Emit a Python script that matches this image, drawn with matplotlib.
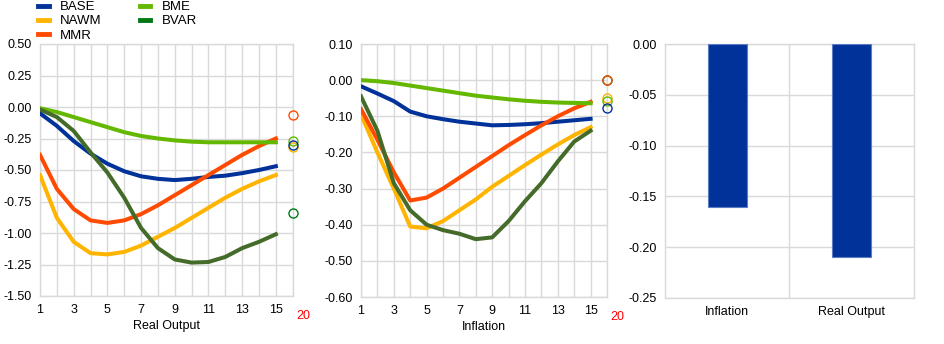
import matplotlib.pyplot as plt
import numpy as np
from matplotlib.lines import Line2D

plt.rcParams['font.family'] = ['Liberation Sans', 'DejaVu Sans']

# Horizons (quarters) for the impulse responses
horizons = np.arange(1, 16)
marker_pos = 16  # long-run value plotted as an open circle

# Real output responses
out_base = [-0.05, -0.15, -0.27, -0.37, -0.45, -0.51, -0.55, -0.57, -0.58, -0.57, -0.555, -0.545, -0.525, -0.50, -0.47]
out_nawm = [-0.54, -0.88, -1.07, -1.16, -1.17, -1.15, -1.10, -1.03, -0.96, -0.88, -0.80, -0.72, -0.65, -0.59, -0.54]
out_mmr = [-0.38, -0.65, -0.81, -0.90, -0.92, -0.90, -0.85, -0.78, -0.70, -0.62, -0.54, -0.46, -0.38, -0.31, -0.25]
out_bme = [-0.01, -0.04, -0.08, -0.12, -0.16, -0.20, -0.23, -0.25, -0.265, -0.275, -0.28, -0.28, -0.28, -0.28, -0.28]
out_bvar = [-0.02, -0.08, -0.19, -0.36, -0.52, -0.72, -0.96, -1.12, -1.21, -1.235, -1.23, -1.19, -1.12, -1.07, -1.01]
out_longrun = {'BASE': -0.30, 'NAWM': -0.32, 'MMR': -0.06, 'BME': -0.27, 'BVAR': -0.84}

# Inflation responses
inf_base = [-0.017, -0.037, -0.058, -0.087, -0.100, -0.108, -0.115, -0.120, -0.125, -0.124, -0.122, -0.119, -0.115, -0.111, -0.107]
inf_nawm = [-0.095, -0.20, -0.30, -0.405, -0.41, -0.39, -0.36, -0.33, -0.295, -0.265, -0.235, -0.206, -0.178, -0.152, -0.13]
inf_mmr = [-0.08, -0.165, -0.255, -0.333, -0.325, -0.30, -0.27, -0.24, -0.21, -0.18, -0.152, -0.125, -0.10, -0.078, -0.06]
inf_bme = [0.0, -0.003, -0.008, -0.015, -0.022, -0.029, -0.036, -0.043, -0.048, -0.053, -0.057, -0.060, -0.062, -0.063, -0.064]
inf_bvar = [-0.045, -0.14, -0.285, -0.36, -0.40, -0.415, -0.425, -0.44, -0.435, -0.39, -0.335, -0.285, -0.225, -0.17, -0.14]
inf_longrun = {'BASE': -0.077, 'NAWM': -0.05, 'MMR': 0.0, 'BME': -0.058, 'BVAR': 0.0}

# Bar panel
bar_labels = ['Inflation', 'Real Output']
bar_values = [-0.16, -0.21]

names = ['BASE', 'NAWM', 'MMR', 'BME', 'BVAR']
line_colors = {'BASE': '#003299', 'NAWM': '#FFB400', 'MMR': '#FF4B00',
               'BME': '#65B800', 'BVAR': '#456B2A'}
key_colors = {'BASE': '#003299', 'NAWM': '#FFB400', 'MMR': '#FF4B00',
              'BME': '#65B800', 'BVAR': '#007816'}
grid_c = '#D9D9D9'

fig = plt.figure(figsize=(9.45, 3.44), dpi=100)
W, H = 945, 344


def axes_px(x0, y0, x1, y1):
    return fig.add_axes([x0 / W, 1 - y1 / H, (x1 - x0) / W, (y1 - y0) / H])


def fmt2(v):
    v = round(v, 2)
    return '{:.2f}'.format(0.0 if v == 0 else v)


def style(ax):
    for s in ax.spines.values():
        s.set_color(grid_c)
        s.set_linewidth(1)
    ax.tick_params(length=0, labelsize=9, colors='black', pad=6)
    ax.set_axisbelow(True)


def irf_panel(ax, series, longrun, ylim, yticks, xlabel):
    for name, vals in zip(names, series):
        ax.plot(horizons, vals, color=line_colors[name], lw=2.9, solid_joinstyle='round', zorder=3)
    for name in ['BVAR', 'NAWM', 'BME', 'BASE', 'MMR']:
        ax.plot([marker_pos], [longrun[name]], 'o', mfc='none', mec=key_colors[name],
                ms=6.5, mew=1.0, zorder=4, clip_on=False)
    ax.set_xlim(1, 16)
    ax.set_ylim(*ylim)
    ax.set_xticks(np.arange(1, 17), minor=True)
    ax.set_xticks(np.arange(1, 16, 2))
    ax.set_yticks(yticks)
    ax.set_yticklabels([fmt2(v) for v in yticks])
    ax.grid(True, which='both', color=grid_c, lw=1)
    style(ax)
    ax.tick_params(which='minor', length=0)
    ax.set_xlabel(xlabel, fontsize=9, labelpad=3)
    ax.text(16.65, -0.055, '20', color='red', fontsize=9, ha='center', va='top',
            transform=ax.get_xaxis_transform())


ax1 = axes_px(40, 44, 292.7, 296)
irf_panel(ax1, [out_base, out_nawm, out_mmr, out_bme, out_bvar], out_longrun,
          (-1.5, 0.5), np.arange(-1.5, 0.51, 0.25), 'Real Output')

ax2 = axes_px(361, 44, 607, 297)
irf_panel(ax2, [inf_base, inf_nawm, inf_mmr, inf_bme, inf_bvar], inf_longrun,
          (-0.6, 0.1), np.arange(-0.6, 0.11, 0.1), 'Inflation')

ax3 = axes_px(665, 44, 914, 298)
xb = np.arange(len(bar_labels))
ax3.bar(xb, bar_values, width=0.31, color='#003299', edgecolor='#5B7BC4', lw=0.8, zorder=3)
ax3.set_xlim(-0.5, 1.5)
ax3.set_ylim(-0.25, 0)
ax3.set_xticks(xb)
ax3.set_xticklabels(bar_labels)
ax3.set_xticks([0.5], minor=True)
yb = np.arange(-0.25, 0.001, 0.05)
ax3.set_yticks(yb)
ax3.set_yticklabels([fmt2(v) for v in yb])
ax3.grid(True, which='major', axis='y', color=grid_c, lw=1)
ax3.grid(True, which='minor', axis='x', color=grid_c, lw=1)
style(ax3)
ax3.tick_params(which='minor', length=0)

handles = [Line2D([], [], color=key_colors[n], lw=3.5) for n in names]
fig.legend(handles, names, ncol=2, loc='upper left', bbox_to_anchor=(38 / W, 1 - 1 / H),
           frameon=False, fontsize=9.5, handlelength=0.8, handletextpad=0.85,
           labelspacing=0.15, columnspacing=2.9, borderaxespad=0, borderpad=0)

fig.savefig('out.png', dpi=100)
